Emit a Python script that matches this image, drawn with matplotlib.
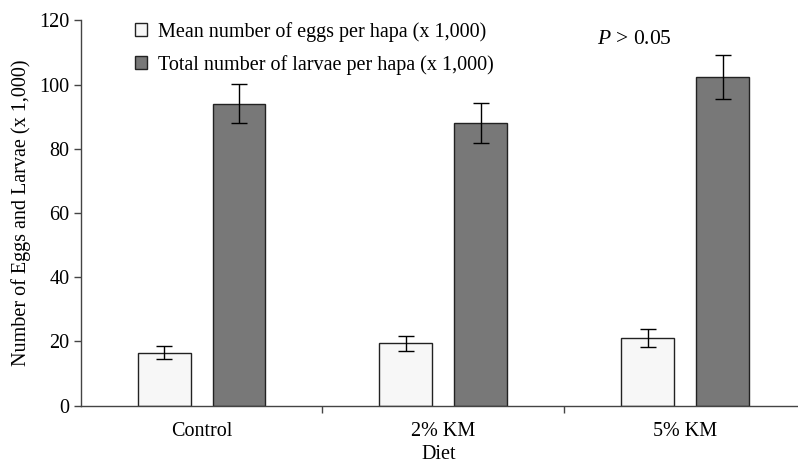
import numpy as np
import matplotlib
matplotlib.use("Agg")
import matplotlib.pyplot as plt

# 数据
diets = ["Control", "2% KM", "5% KM"]
eggs_mean = [16.5, 19.4, 21.0]
eggs_err = [1.9, 2.4, 2.7]
larvae_total = [94.0, 87.9, 102.4]
larvae_err = [6.1, 6.2, 6.9]
yticks = [0, 20, 40, 60, 80, 100, 120]

plt.rcParams['font.family'] = ['Liberation Serif', 'DejaVu Serif']
plt.rcParams['mathtext.fontset'] = 'custom'
plt.rcParams['mathtext.rm'] = 'Liberation Serif'
plt.rcParams['mathtext.it'] = 'Liberation Serif:italic'

fig = plt.figure(figsize=(7.98, 4.68), dpi=100)
ax = fig.add_axes([0.101, 0.1335, 0.898, 0.823])

x = np.arange(len(diets))
w = 0.219
off = 0.155
err_kw = dict(ecolor='black', elinewidth=1.0, capsize=5.5, capthick=1.0)

ax.bar(x - off, eggs_mean, w, yerr=eggs_err, color='#f7f7f7', edgecolor='#222222',
       linewidth=1.0, error_kw=err_kw, label='Mean number of eggs per hapa (x 1,000)')
ax.bar(x + off, larvae_total, w, yerr=larvae_err, color='#787878', edgecolor='#222222',
       linewidth=1.0, error_kw=err_kw, label='Total number of larvae per hapa (x 1,000)')

ax.set_xlim(-0.5, 2.463)
ax.set_ylim(0, 120)
ax.set_yticks(yticks)
ax.set_xticks(x)
ax.set_xticklabels(diets)
ax.set_xticks([0.5, 1.5], minor=True)
ax.tick_params(axis='x', which='major', length=0, pad=12, labelsize=14.5)
ax.tick_params(axis='x', which='minor', length=5, direction='out', width=1.0, color='#444444')
ax.tick_params(axis='y', length=5, direction='out', width=1.0, color='#444444', labelsize=14.5, pad=3)

for s in ['top', 'right']:
    ax.spines[s].set_visible(False)
for s in ['left', 'bottom']:
    ax.spines[s].set_color('#444444')
    ax.spines[s].set_linewidth(1.0)

ax.set_xlabel('Diet', fontsize=14.5, labelpad=3)
ax.set_ylabel('Number of Eggs and Larvae (x 1,000)', fontsize=14.5, labelpad=6)

ax.text(0.72, 0.95, r'$\it{P}$ > 0.05', transform=ax.transAxes, fontsize=15.5,
        ha='left', va='center')

leg = ax.legend(loc='upper left', bbox_to_anchor=(0.065, 1.017), frameon=False, fontsize=14.5,
                handlelength=0.6, handleheight=0.6, handletextpad=0.55, labelspacing=0.65,
                borderaxespad=0)

fig.savefig('out.png', dpi=100)
